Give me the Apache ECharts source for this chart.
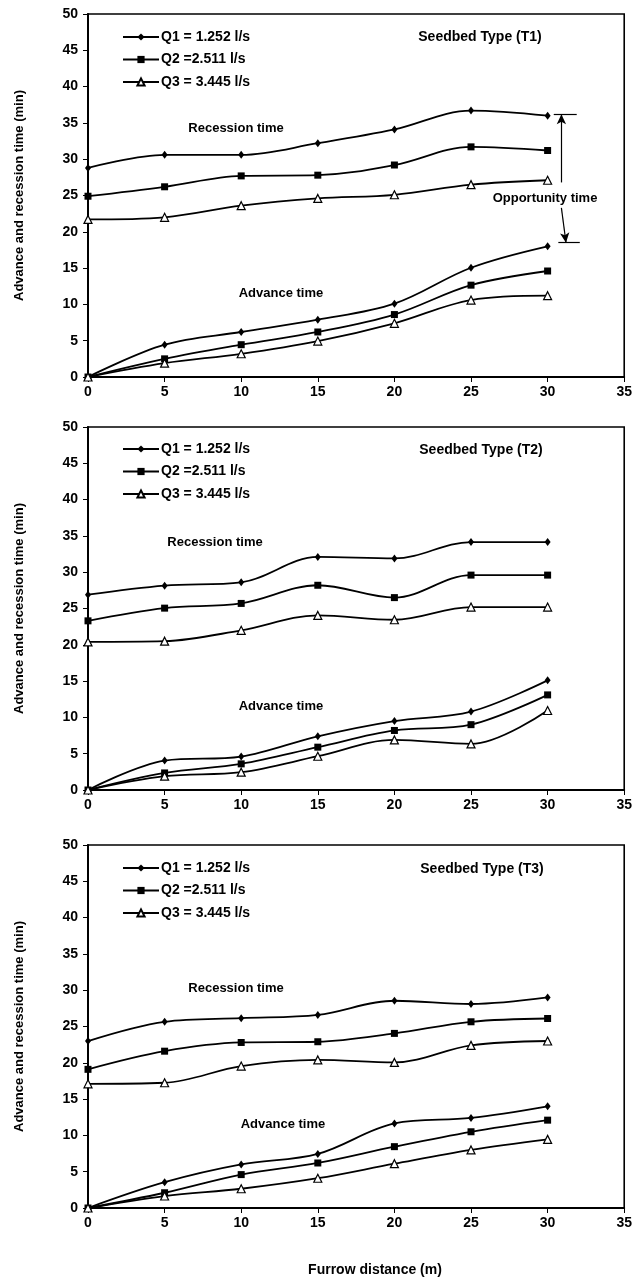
<!DOCTYPE html>
<html>
<head>
<meta charset="utf-8">
<script src="https://cdn.jsdelivr.net/npm/echarts@6/dist/echarts.min.js"></script>
<style>
html,body{margin:0;padding:0;background:#fff;}
#chart{width:635px;height:1283px;}
</style>
</head>
<body>
<div id="chart"></div>
<script>
// ---- data ----
var distance = [0, 5, 10, 15, 20, 25, 30];
var seriesNames = ['Q1 = 1.252 l/s', 'Q2 =2.511 l/s', 'Q3 = 3.445 l/s'];
var panelTitles = ['Seedbed Type (T1)', 'Seedbed Type (T2)', 'Seedbed Type (T3)'];
var xTicks = [0, 5, 10, 15, 20, 25, 30, 35];
var yTicks = [0, 5, 10, 15, 20, 25, 30, 35, 40, 45, 50];

// T1
var t1AdvQ1 = [0, 4.45, 6.2, 7.9, 10.1, 15.05, 18.0];
var t1AdvQ2 = [0, 2.5, 4.45, 6.2, 8.6, 12.65, 14.6];
var t1AdvQ3 = [0, 1.9, 3.2, 4.95, 7.4, 10.6, 11.2];
var t1RecQ1 = [28.8, 30.6, 30.6, 32.2, 34.1, 36.7, 36.0];
var t1RecQ2 = [24.9, 26.2, 27.7, 27.8, 29.2, 31.7, 31.2];
var t1RecQ3 = [21.7, 22.0, 23.6, 24.6, 25.1, 26.5, 27.1];
// T2
var t2AdvQ1 = [0, 4.05, 4.6, 7.4, 9.5, 10.8, 15.1];
var t2AdvQ2 = [0, 2.35, 3.6, 5.9, 8.2, 9.0, 13.1];
var t2AdvQ3 = [0, 1.9, 2.45, 4.65, 6.9, 6.35, 10.95];
var t2RecQ1 = [26.9, 28.15, 28.6, 32.1, 31.9, 34.15, 34.15];
var t2RecQ2 = [23.3, 25.05, 25.7, 28.2, 26.5, 29.6, 29.6];
var t2RecQ3 = [20.4, 20.5, 22.0, 24.05, 23.45, 25.2, 25.2];
// T3
var t3AdvQ1 = [0, 3.55, 6.0, 7.45, 11.65, 12.4, 14.0];
var t3AdvQ2 = [0, 2.1, 4.6, 6.2, 8.45, 10.5, 12.1];
var t3AdvQ3 = [0, 1.65, 2.65, 4.1, 6.1, 8.0, 9.45];
var t3RecQ1 = [23.0, 25.65, 26.15, 26.6, 28.55, 28.1, 29.0];
var t3RecQ2 = [19.1, 21.6, 22.8, 22.9, 24.05, 25.65, 26.1];
var t3RecQ3 = [17.1, 17.25, 19.55, 20.4, 20.05, 22.4, 23.0];

// opportunity-time annotation (panel T1), in data units
var oppTopY = 36.2, oppBottomY = 18.5;
var oppBarX = [30.4, 31.9];
var oppArrowUp = [[30.9, 26.8], [30.9, 36.2]];
var oppArrowDown = [[30.9, 23.3], [31.2, 18.5]];

var panels = [
  [[t1AdvQ1, t1AdvQ2, t1AdvQ3], [t1RecQ1, t1RecQ2, t1RecQ3]],
  [[t2AdvQ1, t2AdvQ2, t2AdvQ3], [t2RecQ1, t2RecQ2, t2RecQ3]],
  [[t3AdvQ1, t3AdvQ2, t3AdvQ3], [t3RecQ1, t3RecQ2, t3RecQ3]]
];

// ---- layout/style ----
var FONT = '"Liberation Sans", Arial, sans-serif';
var gridTops = [14, 427, 845];
var gridH = 363;
var symbols = ['diamond', 'rect', 'triangle'];
var symbolSizes = [[6, 8], 7, 8];
var itemStyles = [
  {color: '#000'},
  {color: '#000'},
  {color: '#fff', borderColor: '#000', borderWidth: 1.2}
];

function pairs(ys) { return distance.map(function (x, i) { return [x, ys[i]]; }); }

var grids = [], xAxes = [], yAxes = [], series = [], legends = [];
var legendTops = [30, 442, 861];

for (var p = 0; p < 3; p++) {
  grids.push({left: 88, width: 538, top: gridTops[p], height: gridH,
    show: true, borderColor: '#000', borderWidth: 1.6, backgroundColor: 'transparent'});
  xAxes.push({type: 'value', gridIndex: p, min: 0, max: 35, interval: 5,
    axisLine: {show: true, onZero: false, lineStyle: {color: '#000', width: 2}},
    axisTick: {show: true, inside: false, length: 5, lineStyle: {color: '#000', width: 1}},
    axisLabel: {color: '#000', fontFamily: FONT, fontWeight: 'bold', fontSize: 14, margin: 8,
      formatter: function (v) { return xTicks.indexOf(v) >= 0 ? String(v) : ''; }},
    splitLine: {show: false}
  });
  yAxes.push({type: 'value', gridIndex: p, min: 0, max: 50, interval: 5,
    name: 'Advance and recession time (min)', nameLocation: 'middle', nameGap: 62,
    nameTextStyle: {color: '#000', fontFamily: FONT, fontWeight: 'bold', fontSize: 13},
    axisLine: {show: true, onZero: false, lineStyle: {color: '#000', width: 2}},
    axisTick: {show: true, inside: false, length: 5, lineStyle: {color: '#000', width: 1}},
    axisLabel: {color: '#000', fontFamily: FONT, fontWeight: 'bold', fontSize: 14, margin: 10,
      formatter: function (v) { return yTicks.indexOf(v) >= 0 ? String(v) : ''; }},
    splitLine: {show: false}
  });
  legends.push({orient: 'vertical', left: 122, top: legendTops[p], padding: 0,
    itemWidth: 36, itemHeight: 9, itemGap: 8.5, selectedMode: false,
    data: seriesNames.slice(),
    textStyle: {color: '#000', fontFamily: FONT, fontWeight: 'bold', fontSize: 14, padding: [0, 0, 0, -3]}
  });
  for (var kind = 0; kind < 2; kind++) {
    for (var q = 0; q < 3; q++) {
      var s = {
        type: 'line', name: seriesNames[q], xAxisIndex: p, yAxisIndex: p,
        data: pairs(panels[p][kind][q]), smooth: 0.35,
        symbol: symbols[q], symbolSize: symbolSizes[q], showAllSymbol: true,
        lineStyle: {color: '#000', width: 1.8},
        itemStyle: itemStyles[q],
        emphasis: {disabled: true}, animation: false, z: q === 2 ? 3 : 2
      };
      if (p === 0 && kind === 1 && q === 0) {
        s.markLine = {
          silent: true, animation: false, symbol: ['none', 'none'], symbolSize: 9,
          label: {show: false},
          lineStyle: {color: '#000', width: 1.2, type: 'solid'},
          data: [
            [{coord: [oppBarX[0], oppTopY]}, {coord: [oppBarX[1], oppTopY]}],
            [{coord: [oppBarX[0] + 0.3, oppBottomY]}, {coord: [oppBarX[1] + 0.2, oppBottomY]}],
            [{coord: oppArrowUp[0], symbol: 'none'}, {coord: oppArrowUp[1], symbol: 'arrow', symbolSize: [7, 10]}],
            [{coord: oppArrowDown[0], symbol: 'none'}, {coord: oppArrowDown[1], symbol: 'arrow', symbolSize: [7, 10]}]
          ]
        };
      }
      series.push(s);
    }
  }
}

function txt(x, y, t, size) {
  return {type: 'text', x: x, y: y, silent: true, z: 10,
    style: {text: t, fill: '#000', font: 'bold ' + size + 'px ' + FONT, textAlign: 'center', textVerticalAlign: 'middle'}};
}

var graphics = [
  txt(480, 37, panelTitles[0], 14),
  txt(481, 450, panelTitles[1], 14),
  txt(482, 869, panelTitles[2], 14),
  txt(236, 128, 'Recession time', 13),
  txt(215, 542, 'Recession time', 13),
  txt(236, 988, 'Recession time', 13),
  txt(281, 293, 'Advance time', 13),
  txt(281, 706, 'Advance time', 13),
  txt(283, 1124, 'Advance time', 13),
  txt(545, 198, 'Opportunity time', 13),
  txt(375, 1270, 'Furrow distance (m)', 14)
];

var chart = echarts.init(document.getElementById('chart'), null, {renderer: 'canvas'});
chart.setOption({
  backgroundColor: '#fff',
  animation: false,
  grid: grids, xAxis: xAxes, yAxis: yAxes, legend: legends,
  series: series, graphic: graphics
});
</script>
</body>
</html>
